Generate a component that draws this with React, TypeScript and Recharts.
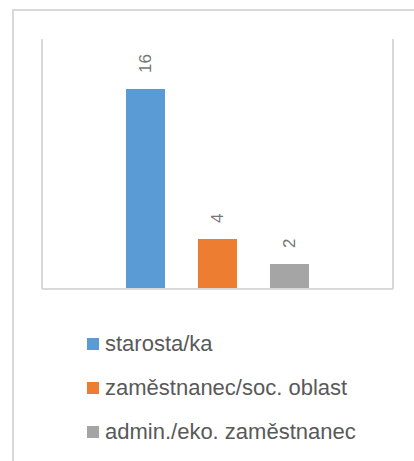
import React from "react";
import { BarChart, Bar, XAxis, YAxis, LabelList } from "recharts";

const categories = ["Pozice"];
const seriesNames = ["starosta/ka", "zaměstnanec/soc. oblast", "admin./eko. zaměstnanec"];
const seriesValues = [16, 4, 2];
const seriesColors = ["#5B9BD5", "#ED7D31", "#A5A5A5"];

const data = categories.map((c) => {
  const row: Record<string, string | number> = { name: c };
  seriesNames.forEach((s, i) => {
    row["s" + i] = seriesValues[i];
  });
  return row;
});

const GRID = "#d9d9d9";
const FONT = "'Liberation Sans', Arial, sans-serif";

const RotLabel = (props: any) => {
  const { x, y, width, value } = props;
  const cx = x + width / 2;
  const sy = y - 16;
  return (
    <text
      x={cx}
      y={sy}
      transform={`rotate(-90 ${cx} ${sy})`}
      textAnchor="start"
      dominantBaseline="central"
      fill="#767676"
      fontSize={17}
      fontFamily={FONT}
    >
      {value}
    </text>
  );
};

const LegendBox = () => (
  <div style={{ position: "absolute", left: 87, top: 322, fontFamily: FONT }}>
    {seriesNames.map((s, i) => (
      <div key={s} style={{ display: "flex", alignItems: "center", height: 44 }}>
        <span
          style={{
            display: "inline-block",
            width: 12,
            height: 12,
            background: seriesColors[i],
            marginRight: 6,
          }}
        />
        <span style={{ fontSize: 22, color: "#595959", lineHeight: "44px", whiteSpace: "nowrap" }}>
          {s}
        </span>
      </div>
    ))}
  </div>
);

export default function App() {
  return (
    <div style={{ position: "absolute", left: 0, top: 0, width: 414, height: 461, overflow: "hidden", background: "#fff" }}>
      <div
        style={{
          position: "absolute",
          left: 12,
          top: 9,
          width: 420,
          height: 470,
          borderLeft: `2px solid ${GRID}`,
          borderTop: `2px solid ${GRID}`,
          boxSizing: "border-box",
        }}
      />
      <div style={{ position: "absolute", left: 0, top: 0 }}>
        <BarChart
          width={414}
          height={461}
          data={data}
          margin={{ top: 39, left: 41, right: 20, bottom: 171 }}
          barSize={39}
          barGap={33}
          barCategoryGap={84}
        >
          <XAxis
            dataKey="name"
            tick={false}
            tickLine={false}
            height={1}
            axisLine={{ stroke: GRID, strokeWidth: 2 }}
          />
          <YAxis
            yAxisId="l"
            orientation="left"
            width={1}
            domain={[0, 20]}
            tick={false}
            tickLine={false}
            axisLine={{ stroke: GRID, strokeWidth: 2 }}
          />
          <YAxis
            yAxisId="r"
            orientation="right"
            width={1}
            domain={[0, 20]}
            tick={false}
            tickLine={false}
            axisLine={{ stroke: GRID, strokeWidth: 2 }}
          />
          {seriesNames.map((s, i) => (
            <Bar
              key={s}
              yAxisId="l"
              dataKey={"s" + i}
              name={s}
              fill={seriesColors[i]}
              isAnimationActive={false}
            >
              <LabelList dataKey={"s" + i} content={<RotLabel />} />
            </Bar>
          ))}
        </BarChart>
      </div>
      <LegendBox />
    </div>
  );
}
